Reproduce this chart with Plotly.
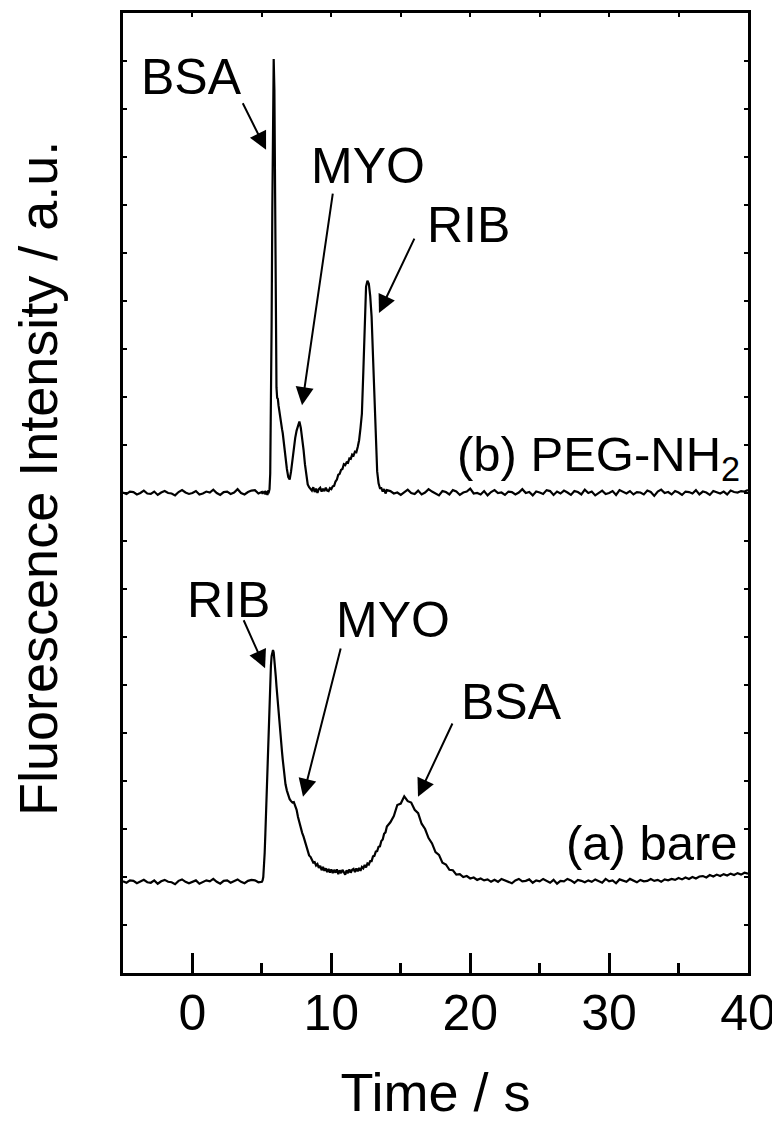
import plotly.graph_objects as go

# ---- sampling times (s) ----
time_seg1 = [-5.0, -4.75, -4.5, -4.25, -4.0, -3.75, -3.5, -3.25, -3.0, -2.75,
             -2.5, -2.25, -2.0, -1.75, -1.5, -1.25, -1.0, -0.75, -0.5, -0.25,
             0.0, 0.25, 0.5, 0.75, 1.0, 1.25, 1.5, 1.75, 2.0, 2.25,
             2.5, 2.75, 3.0, 3.25, 3.5, 3.75, 4.0, 4.25, 4.5, 4.75]
time_seg2 = [5.0, 5.05, 5.1, 5.15, 5.2, 5.25, 5.3, 5.35, 5.4, 5.45,
             5.5, 5.55, 5.6, 5.65, 5.7, 5.75, 5.8, 5.85, 5.9, 5.95,
             6.0, 6.05, 6.1, 6.15, 6.2, 6.25, 6.3, 6.35, 6.4, 6.45, 6.5]
time_seg3 = [6.6, 6.7, 6.8, 6.9, 7.0, 7.1, 7.2, 7.3, 7.4, 7.5,
             7.6, 7.7, 7.8, 7.9, 8.0, 8.1, 8.2, 8.3, 8.4, 8.5,
             8.6, 8.7, 8.8, 8.9, 9.0, 9.1, 9.2, 9.3, 9.4, 9.5,
             9.6, 9.7, 9.8, 9.9, 10.0, 10.1, 10.2, 10.3, 10.4, 10.5,
             10.6, 10.7, 10.8, 10.9, 11.0, 11.1, 11.2, 11.3, 11.4, 11.5,
             11.6, 11.7, 11.8, 11.9, 12.0, 12.1, 12.2, 12.3, 12.4, 12.5,
             12.6, 12.7, 12.8, 12.9, 13.0, 13.1, 13.2, 13.3, 13.4, 13.5,
             13.6, 13.7, 13.8, 13.9, 14.0]
time_seg4 = [14.25, 14.5, 14.75, 15.0, 15.25, 15.5, 15.75, 16.0, 16.25, 16.5,
             16.75, 17.0, 17.25, 17.5, 17.75, 18.0, 18.25, 18.5, 18.75, 19.0,
             19.25, 19.5, 19.75, 20.0, 20.25, 20.5, 20.75, 21.0, 21.25, 21.5,
             21.75, 22.0, 22.25, 22.5, 22.75, 23.0, 23.25, 23.5, 23.75, 24.0,
             24.25, 24.5, 24.75, 25.0, 25.25, 25.5, 25.75, 26.0, 26.25, 26.5,
             26.75, 27.0, 27.25, 27.5, 27.75, 28.0, 28.25, 28.5, 28.75, 29.0,
             29.25, 29.5, 29.75, 30.0, 30.25, 30.5, 30.75, 31.0, 31.25, 31.5,
             31.75, 32.0, 32.25, 32.5, 32.75, 33.0, 33.25, 33.5, 33.75, 34.0,
             34.25, 34.5, 34.75, 35.0, 35.25, 35.5, 35.75, 36.0, 36.25, 36.5,
             36.75, 37.0, 37.25, 37.5, 37.75, 38.0, 38.25, 38.5, 38.75, 39.0,
             39.25, 39.5, 39.75, 40.0]

# ---- (b) PEG-NH2 coated channel ----
peg_seg1 = [10.01, 9.98, 10.03, 10.02, 9.97, 10.00, 10.05, 9.99, 9.98, 10.03,
            9.96, 10.01, 10.04, 10.00, 9.99, 9.95, 10.02, 10.06, 10.01, 9.98,
            10.00, 10.04, 9.97, 9.99, 10.03, 10.01, 10.07, 10.00, 9.96, 10.02,
            10.03, 9.98, 10.01, 10.08, 10.00, 9.97, 10.02, 10.05, 10.06, 9.99]
peg_seg2 = [10.02, 9.98, 10.03, 10.00, 10.04, 9.97, 10.02, 10.01, 9.96, 10.03,
            10.02, 10.08, 10.40, 11.60, 13.50, 15.90, 18.10, 19.04, 18.40, 16.20,
            13.60, 12.20, 11.98, 11.96, 11.82, 11.70, 11.60, 11.50, 11.42, 11.33, 11.25]
peg_seg3 = [10.95, 10.72, 10.50, 10.33, 10.28, 10.45, 10.70, 10.95, 11.15, 11.30,
            11.42, 11.49, 11.36, 11.15, 10.90, 10.60, 10.33, 10.18, 10.12, 10.08,
            10.05, 10.12, 10.02, 10.09, 10.00, 10.08, 10.11, 10.03, 10.09, 10.04,
            10.11, 10.05, 10.04, 10.10, 10.08, 10.14, 10.15, 10.24, 10.28, 10.38,
            10.40, 10.48, 10.50, 10.60, 10.58, 10.64, 10.63, 10.72, 10.71, 10.80,
            10.78, 10.86, 10.85, 10.96, 11.10, 11.35, 11.65, 12.50, 13.60, 14.30,
            14.42, 14.36, 14.10, 13.67, 12.85, 12.00, 11.10, 10.45, 10.20, 10.10,
            10.10, 10.03, 10.08, 9.99, 10.06]
peg_seg4 = [10.04, 9.99, 10.01, 9.96, 10.02, 10.07, 10.00, 9.98, 10.05, 9.97,
            10.01, 10.08, 10.03, 9.99, 9.95, 10.04, 10.02, 9.97, 10.06, 10.03,
            9.96, 10.01, 10.03, 10.09, 9.99, 10.00, 9.97, 10.04, 9.95, 10.02,
            10.06, 10.00, 10.01, 9.96, 10.03, 10.02, 9.97, 10.01, 10.08, 10.00,
            10.02, 9.95, 10.03, 10.01, 9.98, 10.06, 10.04, 9.96, 10.03, 9.99,
            10.05, 10.01, 9.96, 10.04, 10.02, 9.97, 10.07, 10.00, 10.03, 9.95,
            10.01, 10.05, 9.98, 10.00, 10.04, 9.96, 10.06, 10.03, 9.99, 10.04,
            9.97, 10.02, 10.01, 9.97, 10.05, 10.02, 9.94, 10.03, 10.07, 10.00,
            10.02, 9.97, 10.04, 10.01, 9.96, 10.03, 10.02, 9.99, 10.06, 9.97,
            10.03, 10.01, 9.96, 10.04, 10.02, 9.99, 10.03, 9.97, 10.05, 10.02,
            10.01, 10.04, 10.03, 10.06]

# ---- (a) bare channel ----
bare_seg1 = [1.91, 1.88, 1.93, 1.92, 1.87, 1.90, 1.94, 1.89, 1.88, 1.93,
             1.86, 1.91, 1.94, 1.90, 1.89, 1.85, 1.92, 1.95, 1.90, 1.87,
             1.90, 1.93, 1.86, 1.89, 1.93, 1.91, 1.96, 1.90, 1.86, 1.92,
             1.93, 1.88, 1.91, 1.95, 1.90, 1.87, 1.92, 1.94, 1.93, 1.89]
bare_seg2 = [1.90, 1.93, 2.00, 2.20, 2.50, 2.90, 3.35, 3.80, 4.30, 4.80,
             5.30, 5.75, 6.10, 6.40, 6.60, 6.70, 6.73, 6.68, 6.55, 6.38,
             6.18, 5.98, 5.78, 5.60, 5.42, 5.25, 5.10, 4.93, 4.76, 4.60, 4.45]
bare_seg3 = [4.15, 3.93, 3.80, 3.70, 3.62, 3.58, 3.55, 3.56, 3.48, 3.40,
             3.25, 3.12, 3.00, 2.92, 2.84, 2.74, 2.62, 2.52, 2.45, 2.42,
             2.36, 2.30, 2.31, 2.24, 2.27, 2.19, 2.23, 2.14, 2.21, 2.13,
             2.18, 2.10, 2.17, 2.09, 2.16, 2.08, 2.15, 2.09, 2.16, 2.06,
             2.14, 2.08, 2.15, 2.09, 2.05, 2.14, 2.08, 2.16, 2.09, 2.15,
             2.17, 2.10, 2.18, 2.12, 2.19, 2.13, 2.21, 2.18, 2.25, 2.20,
             2.28, 2.26, 2.33, 2.33, 2.43, 2.44, 2.53, 2.54, 2.63, 2.64,
             2.75, 2.78, 2.90, 2.93, 3.05]
bare_seg4 = [3.14, 3.27, 3.50, 3.53, 3.68, 3.58, 3.55, 3.40, 3.33, 3.11,
             3.00, 2.81, 2.70, 2.52, 2.46, 2.30, 2.26, 2.15, 2.14, 2.05,
             2.06, 2.00, 2.02, 1.97, 1.99, 1.94, 1.97, 1.93, 1.95, 1.90,
             1.94, 1.90, 1.96, 1.93, 1.91, 1.87, 1.93, 1.96, 1.91, 1.92,
             1.95, 1.88, 1.93, 1.91, 1.96, 1.92, 1.88, 1.94, 1.86, 1.92,
             1.91, 1.96, 1.93, 1.88, 1.94, 1.92, 1.89, 1.93, 1.90, 1.95,
             1.92, 1.88, 1.96, 1.91, 1.93, 1.87, 1.95, 1.92, 1.90, 1.96,
             1.93, 1.89, 1.94, 1.91, 1.92, 1.96, 1.92, 1.94, 1.90, 1.95,
             1.93, 1.96, 1.94, 1.98, 1.95, 1.99, 1.96, 2.00, 1.97, 2.01,
             2.02, 1.99, 2.04, 2.01, 2.05, 2.02, 2.06, 2.03, 2.07, 2.04,
             2.08, 2.05, 2.09, 2.07]

time_s = time_seg1 + time_seg2 + time_seg3 + time_seg4
peg_nh2 = peg_seg1 + peg_seg2 + peg_seg3 + peg_seg4
bare = bare_seg1 + bare_seg2 + bare_seg3 + bare_seg4

x_major_ticks = [0, 10, 20, 30, 40]
x_minor_ticks = [5, 15, 25, 35]
x_top_ticks = [0, 5, 10, 15, 20, 25, 30, 35, 40]

# peak labels: (text, label x, label y, arrow tail x, tail y, arrow tip x, tip y)
peak_labels = [
    ("BSA", -0.1, 18.67, 3.57, 18.15, 5.30, 17.15),
    ("MYO", 12.64, 16.81, 10.12, 16.27, 7.89, 11.83),
    ("RIB", 19.91, 15.58, 16.03, 15.33, 13.43, 13.75),
    ("RIB", 2.56, 7.77, 3.64, 7.38, 5.23, 6.35),
    ("MYO", 14.44, 7.35, 10.70, 6.79, 7.96, 3.67),
    ("BSA", 22.94, 5.65, 18.77, 5.23, 16.24, 3.67),
]
trace_labels = [
    ("(b) PEG-NH<sub>2</sub>", 39.55, 10.75),
    ("(a) bare", 39.45, 2.71),
]
y_title = "Fluorescence Intensity / a.u."
x_title = "Time / s"

FONT = "Liberation Sans, Arial, sans-serif"

fig = go.Figure()
fig.add_trace(go.Scatter(x=time_s, y=peg_nh2, mode="lines",
                         line=dict(color="black", width=2.2), showlegend=False))
fig.add_trace(go.Scatter(x=time_s, y=bare, mode="lines",
                         line=dict(color="black", width=2.2), showlegend=False))
fig.add_trace(go.Scatter(x=[time_s[0]], y=[None], xaxis="x2", mode="lines",
                         showlegend=False, hoverinfo="skip"))

annotations = []
for txt, lx, ly, tx, ty, hx, hy in peak_labels:
    annotations.append(dict(text=txt, x=lx, y=ly, xref="x", yref="y",
                            showarrow=False, xanchor="center", yanchor="middle",
                            font=dict(family=FONT, size=50, color="black")))
    annotations.append(dict(text="", x=hx, y=hy, ax=tx, ay=ty, xref="x", yref="y",
                            axref="x", ayref="y", showarrow=True, arrowhead=2,
                            arrowsize=1.8, arrowwidth=2, arrowcolor="black",
                            standoff=0, startstandoff=0))
for txt, lx, ly in trace_labels:
    annotations.append(dict(text=txt, x=lx, y=ly, xref="x", yref="y",
                            showarrow=False, xanchor="right", yanchor="middle",
                            font=dict(family=FONT, size=49, color="black")))
annotations.append(dict(text=y_title, x=-0.136, y=0.5146, xref="paper", yref="paper",
                        showarrow=False, textangle=-90, xanchor="center",
                        yanchor="middle", font=dict(family=FONT, size=54, color="black")))

# The page adds an 8 px body margin, so the figure is 8 px smaller and the
# margins are shifted to keep the plot frame where the reference has it.
fig.update_layout(
    width=772, height=1114,
    margin=dict(l=115, r=32, t=5, b=149),
    paper_bgcolor="white", plot_bgcolor="white",
    font=dict(family=FONT, color="black"),
    showlegend=False,
    annotations=annotations,
    xaxis=dict(range=[-5, 40], tickmode="array", tickvals=x_major_ticks,
               ticks="inside", ticklen=20, tickwidth=2.5, tickcolor="black",
               minor=dict(tickmode="array", tickvals=x_minor_ticks, ticks="inside",
                          ticklen=10, tickwidth=2.5, tickcolor="black", showgrid=False),
               showline=True, linewidth=2.5, linecolor="black", mirror=True,
               showgrid=False, zeroline=False, automargin=False,
               tickfont=dict(family=FONT, size=50, color="black"),
               ticklabelstandoff=-6,
               title=dict(text=x_title, font=dict(family=FONT, size=54, color="black"),
                          standoff=36)),
    xaxis2=dict(range=[-5, 40], overlaying="x", side="top", anchor="y",
                tickmode="array", tickvals=x_top_ticks, ticks="inside", ticklen=4,
                tickwidth=1.5, tickcolor="black", showticklabels=False,
                showline=False, showgrid=False, zeroline=False, automargin=False),
    yaxis=dict(range=[0, 20], dtick=1, tick0=0, ticks="inside", ticklen=4,
               tickwidth=1.5, tickcolor="black", showticklabels=False,
               showline=True, linewidth=2.5, linecolor="black", mirror="ticks",
               showgrid=False, zeroline=False, automargin=False),
)

fig.write_html("out.html")
